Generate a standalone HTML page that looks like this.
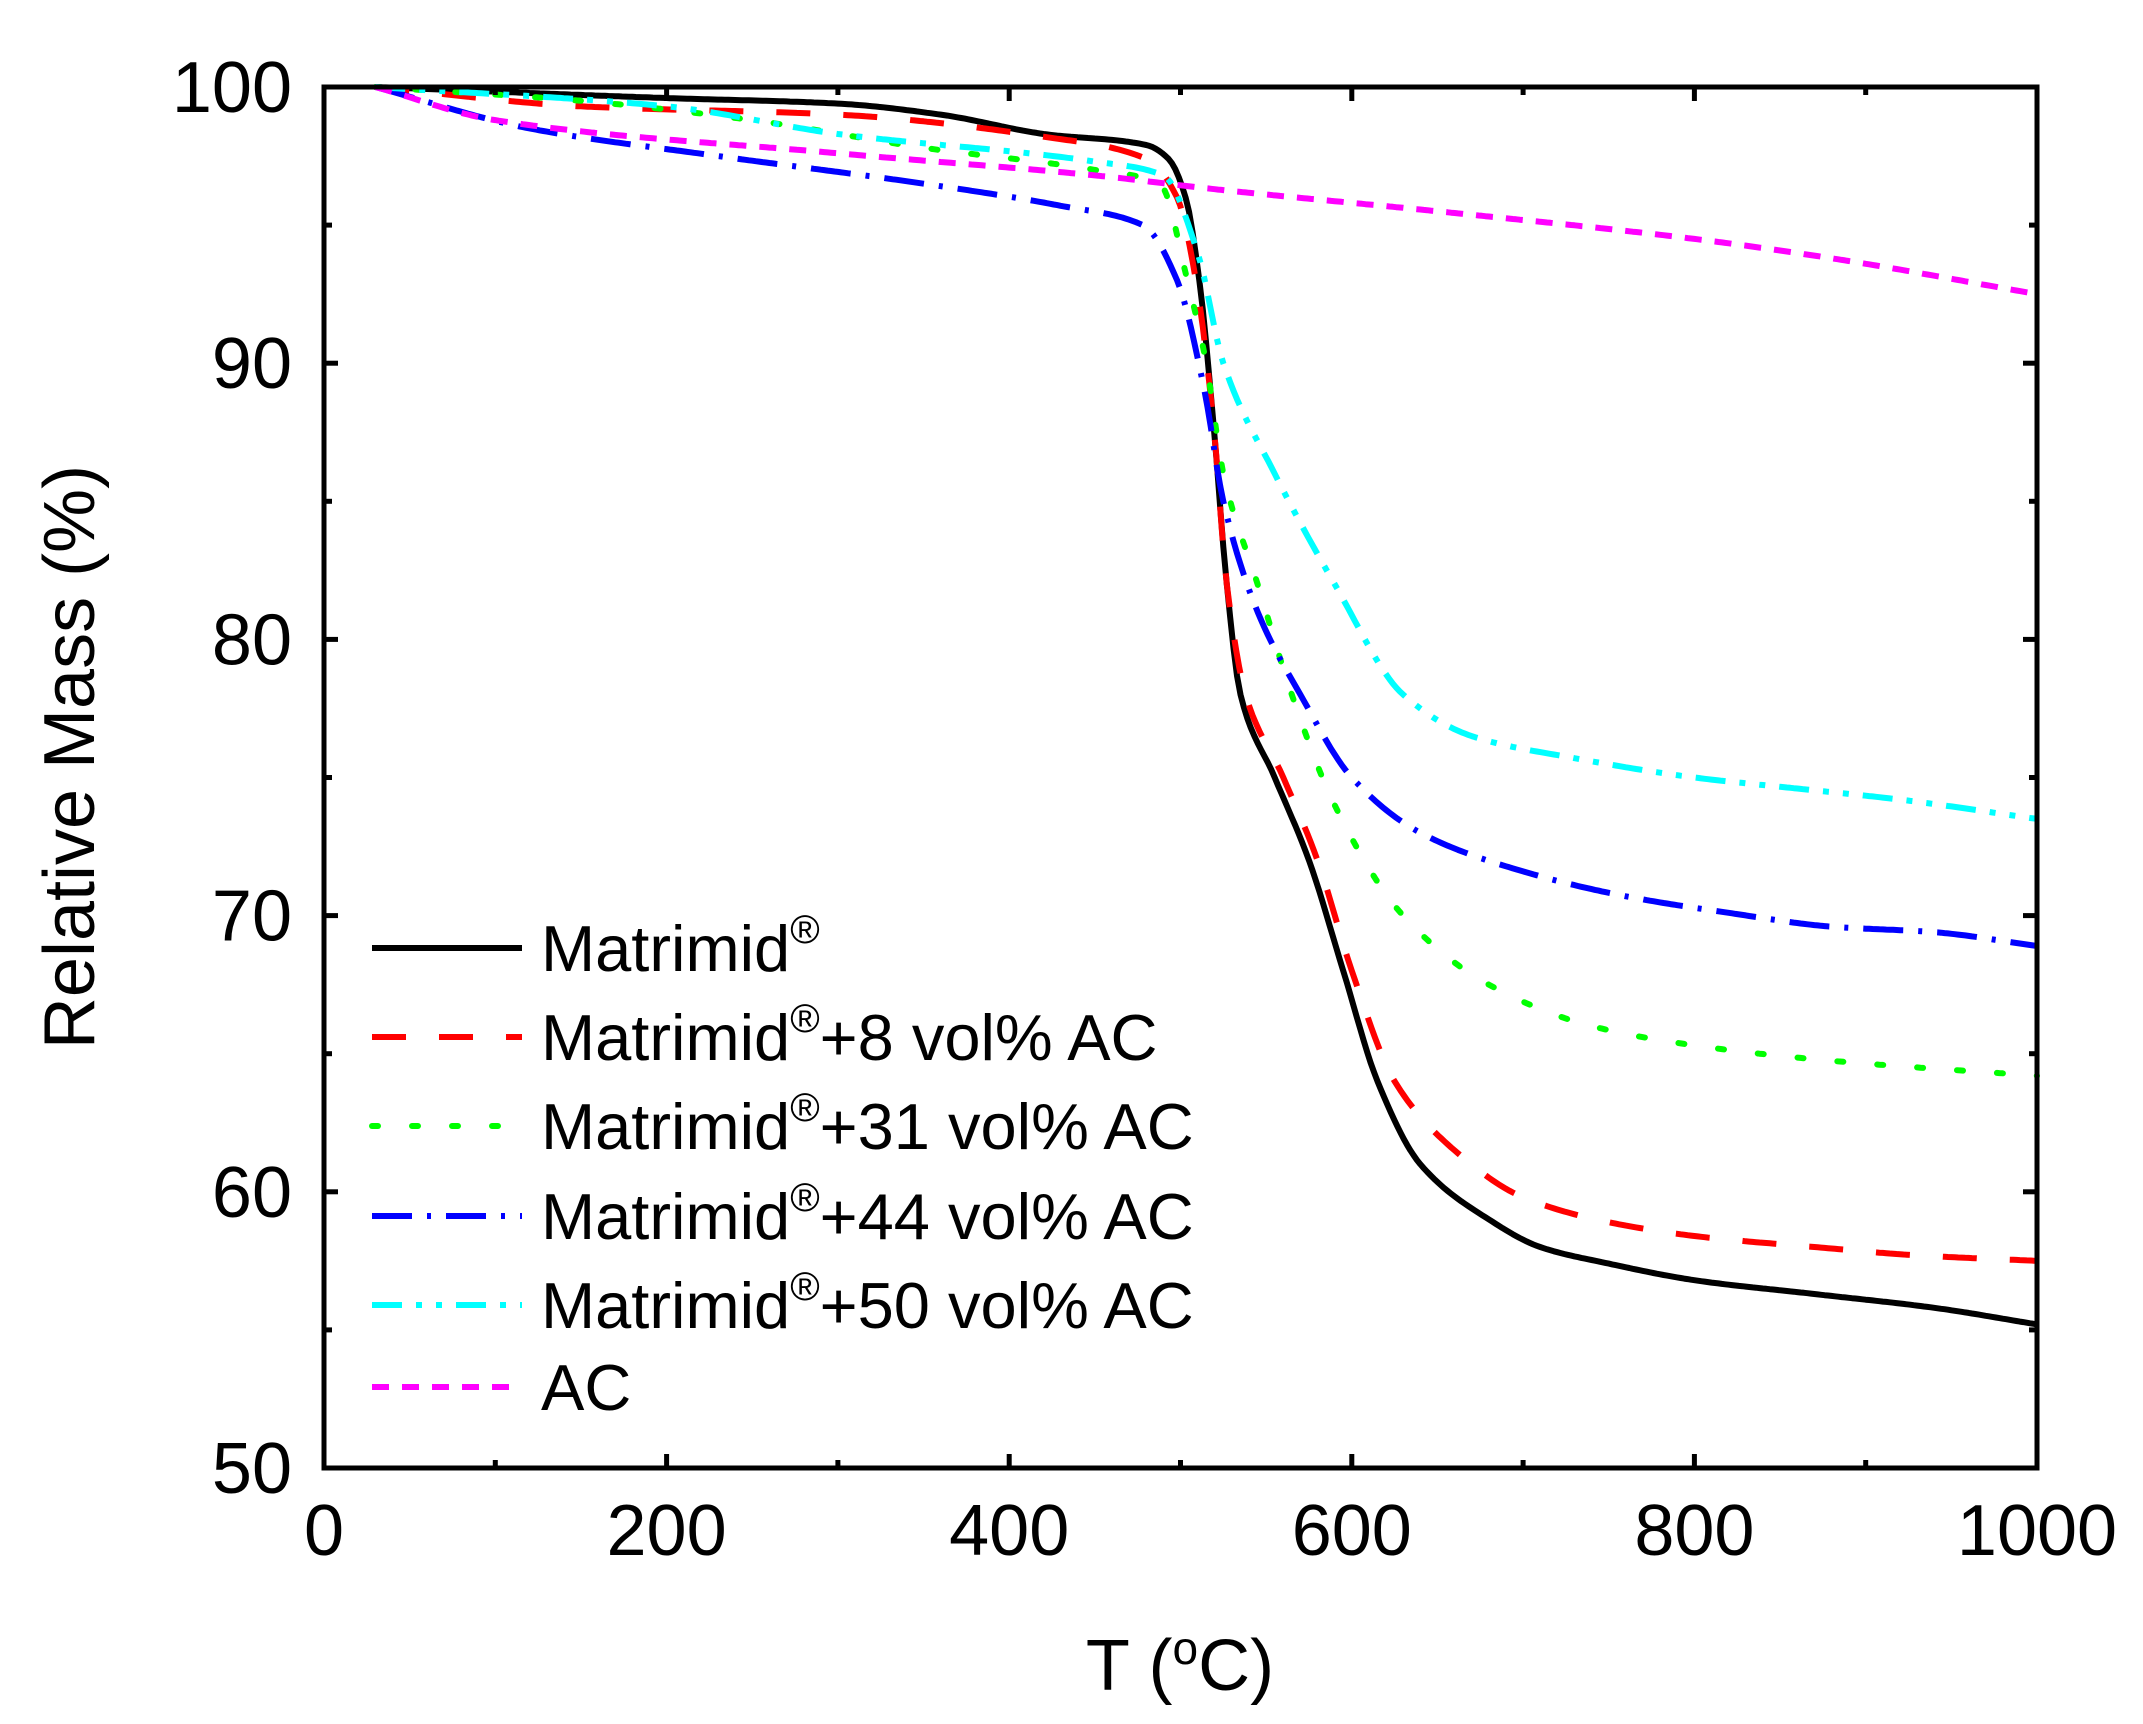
<!DOCTYPE html>
<html><head><meta charset="utf-8"><style>
html,body{margin:0;padding:0;background:#fff}
svg{display:block}
text{font-family:"Liberation Sans",Arial,sans-serif;fill:#000}
</style></head><body>
<svg id="s" width="2143" height="1724" viewBox="0 0 2143 1724" xmlns="http://www.w3.org/2000/svg">
<g id="curves" fill="none" stroke-width="6" stroke-linejoin="round"></g>
<rect x="324" y="87" width="1713" height="1381" fill="none" stroke="#000" stroke-width="5"/>
<g id="ticks" stroke="#000" stroke-width="5"></g>
<g font-size="72" text-anchor="middle" id="xl"></g>
<g font-size="72" text-anchor="end" id="yl"></g>
<text x="1180" y="1690" font-size="72" text-anchor="middle">T (<tspan font-size="46" dy="-26">o</tspan><tspan dy="26">C)</tspan></text>
<text transform="translate(94,757) rotate(-90)" font-size="72" text-anchor="middle">Relative Mass (%)</text>
<g id="leg" font-size="65"></g>
</svg>
<script>
var X=function(t){return 324+1.713*t},Y=function(m){return 87+27.62*(100-m)};
var NS="http://www.w3.org/2000/svg";
function el(n,a,p,txt){var e=document.createElementNS(NS,n);for(var k in a)e.setAttribute(k,a[k]);if(txt!=null)e.textContent=txt;p.appendChild(e);return e;}
var tk=document.getElementById('ticks'),xl=document.getElementById('xl'),yl=document.getElementById('yl');
for(var t=0;t<=1000;t+=100){var x=X(t),L=(t%200==0)?14:8;
 el('line',{x1:x,y1:1468,x2:x,y2:1468-L},tk);el('line',{x1:x,y1:87,x2:x,y2:87+L},tk);
 if(t%200==0)el('text',{x:x,y:1555},xl,String(t));}
for(var m=50;m<=100;m+=5){var y=Y(m),L=(m%10==0)?14:8;
 el('line',{x1:324,y1:y,x2:324+L,y2:y},tk);el('line',{x1:2037,y1:y,x2:2037-L,y2:y},tk);
 if(m%10==0)el('text',{x:292,y:y+25},yl,String(m));}
function mono(p){var n=p.length,xs=p.map(function(q){return q[0]}),ys=p.map(function(q){return q[1]});
 var d=[],m=[];for(var i=0;i<n-1;i++)d.push((ys[i+1]-ys[i])/(xs[i+1]-xs[i]));
 m[0]=d[0];m[n-1]=d[n-2];for(i=1;i<n-1;i++){if(d[i-1]*d[i]<=0)m[i]=0;else{var w1=2*(xs[i+1]-xs[i])+(xs[i]-xs[i-1]),w2=(xs[i+1]-xs[i])+2*(xs[i]-xs[i-1]);m[i]=(w1+w2)/(w1/d[i-1]+w2/d[i]);}}
 var out=[];for(i=0;i<n-1;i++){var h=xs[i+1]-xs[i],N=Math.max(2,Math.ceil(h/2));for(var k=0;k<N;k++){var s=k/N,h00=2*s*s*s-3*s*s+1,h10=s*s*s-2*s*s+s,h01=-2*s*s*s+3*s*s,h11=s*s*s-s*s;
 out.push([xs[i]+s*h,h00*ys[i]+h10*h*m[i]+h01*ys[i+1]+h11*h*m[i+1]]);}}
 out.push([xs[n-1],ys[n-1]]);return out;}
var S=[
{c:'#000',d:'',p:[[30,100],[200,99.6],[300,99.4],[360,99],[420,98.3],[480,97.9],[493,97.4],[503,96],[511,93],[519,88],[527,82],[535,78],[555,75],[575,72],[595,68],[615,64],[640,61],[680,59],[710,58],[750,57.4],[800,56.8],[870,56.3],[940,55.8],[1000,55.2]]},
{c:'#f00',d:'34 33',p:[[30,100],[150,99.3],[300,99.0],[420,98.2],[480,97.4],[498,96],[509,93],[519,88],[527,82],[538,78],[560,75],[580,72],[600,68],[625,64],[660,61.5],[700,59.8],[750,58.9],[800,58.4],[870,58],[930,57.7],[1000,57.5]]},
{c:'#0f0',d:'6 34',cap:'round',p:[[30,100],[150,99.5],[250,98.8],[350,97.8],[450,97],[488,96.5],[504,93],[515,90],[525,86],[545,82],[565,78],[590,74],[630,70],[680,67.5],[740,66],[800,65.3],[870,64.8],[1000,64.2]]},
{c:'#00f',d:'40 15 4 15',p:[[30,100],[120,98.5],[230,97.5],[350,96.5],[430,95.7],[478,95],[498,93],[514,89],[525,85],[545,81],[570,78],[600,75],[640,73],[700,71.6],[760,70.7],[820,70.1],[880,69.6],[940,69.4],[1000,68.9]]},
{c:'#0ff',d:'30 14 6 14 6 14',p:[[30,100],[200,99.3],[300,98.3],[450,97.3],[490,96.8],[510,94],[525,90],[555,86],[590,82],[630,78],[670,76.5],[730,75.7],[800,75],[860,74.6],[920,74.2],[1000,73.5]]},
{c:'#f0f',d:'17 13',p:[[30,100],[100,98.8],[300,97.6],[450,96.8],[520,96.3],[650,95.5],[800,94.5],[880,93.8],[1000,92.5]]}];
var cg=document.getElementById('curves'),lg=document.getElementById('leg');
var names=['Matrimid','Matrimid','Matrimid','Matrimid','Matrimid','AC'],suf=['','+8 vol% AC','+31 vol% AC','+44 vol% AC','+50 vol% AC',''];
var ly=[948,1037,1126,1216,1305,1387];
S.forEach(function(s,i){
 var pts=mono(s.p).map(function(q){return X(q[0]).toFixed(1)+','+Y(q[1]).toFixed(1)}).join(' ');
 var a={points:pts,stroke:s.c};if(s.d)a['stroke-dasharray']=s.d;if(s.cap)a['stroke-linecap']=s.cap;
 el('polyline',a,cg);
 var b={x1:372,y1:ly[i],x2:522,y2:ly[i],stroke:s.c,'stroke-width':6};if(s.d)b['stroke-dasharray']=s.d;if(s.cap)b['stroke-linecap']=s.cap;
 el('line',b,lg);
 var tx=el('text',{x:541,y:ly[i]+23},lg,null);
 el('tspan',{},tx,names[i]);
 if(i<5){el('tspan',{'font-size':40,dy:-28},tx,'®');el('tspan',{dy:28},tx,suf[i]);}
});
</script>
</body></html>
